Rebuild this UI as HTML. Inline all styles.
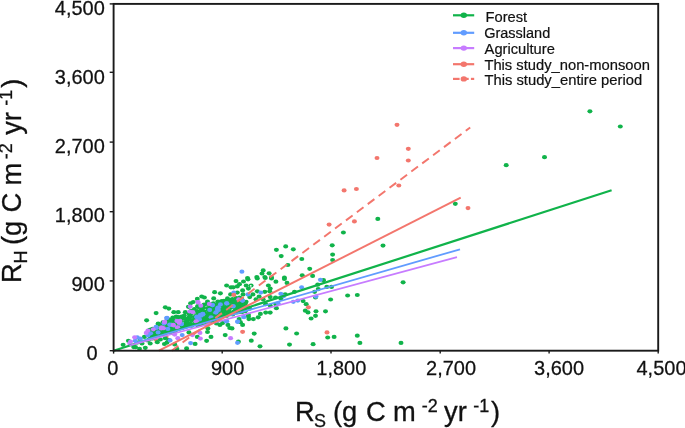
<!DOCTYPE html>
<html><head><meta charset="utf-8"><title>RH vs RS</title>
<style>html,body{margin:0;padding:0;background:#fff;}svg{display:block;will-change:transform;}</style></head>
<body>
<svg width="685" height="428" viewBox="0 0 685 428">
<rect width="685" height="428" fill="#fff"/>
<g fill="#F3766D"><ellipse cx="156.4" cy="340.0" rx="2.5" ry="2.12"/><ellipse cx="166.1" cy="336.9" rx="2.5" ry="2.12"/></g>
<g fill="#10B34A"><ellipse cx="589.9" cy="111.3" rx="2.5" ry="2.12"/><ellipse cx="620.3" cy="126.5" rx="2.5" ry="2.12"/><ellipse cx="544.5" cy="157.2" rx="2.5" ry="2.12"/><ellipse cx="506.2" cy="165.2" rx="2.5" ry="2.12"/><ellipse cx="455.3" cy="203.8" rx="2.5" ry="2.12"/><ellipse cx="377.8" cy="218.9" rx="2.5" ry="2.12"/><ellipse cx="343.4" cy="232.5" rx="2.5" ry="2.12"/><ellipse cx="332.2" cy="245.3" rx="2.5" ry="2.12"/><ellipse cx="383.0" cy="245.6" rx="2.5" ry="2.12"/><ellipse cx="332.6" cy="254.6" rx="2.5" ry="2.12"/><ellipse cx="332.6" cy="260.0" rx="2.5" ry="2.12"/><ellipse cx="301.8" cy="259.0" rx="2.5" ry="2.12"/><ellipse cx="293.3" cy="249.3" rx="2.5" ry="2.12"/><ellipse cx="403.1" cy="282.3" rx="2.5" ry="2.12"/><ellipse cx="347.6" cy="295.5" rx="2.5" ry="2.12"/><ellipse cx="357.3" cy="295.0" rx="2.5" ry="2.12"/><ellipse cx="357.3" cy="335.7" rx="2.5" ry="2.12"/><ellipse cx="359.9" cy="342.9" rx="2.5" ry="2.12"/><ellipse cx="401.0" cy="342.9" rx="2.5" ry="2.12"/><ellipse cx="285.7" cy="246.4" rx="2.5" ry="2.12"/><ellipse cx="276.4" cy="249.8" rx="2.5" ry="2.12"/><ellipse cx="281.2" cy="256.1" rx="2.5" ry="2.12"/><ellipse cx="287.9" cy="265.0" rx="2.5" ry="2.12"/><ellipse cx="263.2" cy="270.4" rx="2.5" ry="2.12"/><ellipse cx="262.0" cy="273.5" rx="2.5" ry="2.12"/><ellipse cx="269.1" cy="273.3" rx="2.5" ry="2.12"/><ellipse cx="256.8" cy="277.1" rx="2.5" ry="2.12"/><ellipse cx="264.8" cy="277.1" rx="2.5" ry="2.12"/><ellipse cx="271.5" cy="277.3" rx="2.5" ry="2.12"/><ellipse cx="284.4" cy="277.7" rx="2.5" ry="2.12"/><ellipse cx="247.5" cy="278.0" rx="2.5" ry="2.12"/><ellipse cx="309.7" cy="268.8" rx="2.5" ry="2.12"/><ellipse cx="302.2" cy="275.3" rx="2.5" ry="2.12"/><ellipse cx="312.6" cy="275.9" rx="2.5" ry="2.12"/><ellipse cx="294.5" cy="291.8" rx="2.5" ry="2.12"/><ellipse cx="317.7" cy="284.7" rx="2.5" ry="2.12"/><ellipse cx="323.5" cy="280.2" rx="2.5" ry="2.12"/><ellipse cx="318.2" cy="289.1" rx="2.5" ry="2.12"/><ellipse cx="314.6" cy="291.8" rx="2.5" ry="2.12"/><ellipse cx="326.8" cy="286.9" rx="2.5" ry="2.12"/><ellipse cx="331.5" cy="286.9" rx="2.5" ry="2.12"/><ellipse cx="315.5" cy="297.5" rx="2.5" ry="2.12"/><ellipse cx="330.6" cy="299.5" rx="2.5" ry="2.12"/><ellipse cx="303.1" cy="301.1" rx="2.5" ry="2.12"/><ellipse cx="306.2" cy="304.2" rx="2.5" ry="2.12"/><ellipse cx="305.3" cy="310.7" rx="2.5" ry="2.12"/><ellipse cx="308.0" cy="312.4" rx="2.5" ry="2.12"/><ellipse cx="316.0" cy="311.3" rx="2.5" ry="2.12"/><ellipse cx="325.5" cy="311.3" rx="2.5" ry="2.12"/><ellipse cx="315.5" cy="315.8" rx="2.5" ry="2.12"/><ellipse cx="311.1" cy="318.5" rx="2.5" ry="2.12"/><ellipse cx="296.6" cy="333.5" rx="2.5" ry="2.12"/><ellipse cx="327.7" cy="337.5" rx="2.5" ry="2.12"/><ellipse cx="334.1" cy="336.9" rx="2.5" ry="2.12"/><ellipse cx="313.1" cy="344.2" rx="2.5" ry="2.12"/><ellipse cx="239.1" cy="319.1" rx="2.5" ry="2.12"/><ellipse cx="248.9" cy="319.1" rx="2.5" ry="2.12"/><ellipse cx="253.3" cy="319.1" rx="2.5" ry="2.12"/><ellipse cx="258.2" cy="317.3" rx="2.5" ry="2.12"/><ellipse cx="248.4" cy="316.4" rx="2.5" ry="2.12"/><ellipse cx="242.6" cy="324.9" rx="2.5" ry="2.12"/><ellipse cx="240.4" cy="322.2" rx="2.5" ry="2.12"/><ellipse cx="232.0" cy="328.4" rx="2.5" ry="2.12"/><ellipse cx="254.2" cy="333.6" rx="2.5" ry="2.12"/><ellipse cx="251.3" cy="340.7" rx="2.5" ry="2.12"/><ellipse cx="238.4" cy="341.7" rx="2.5" ry="2.12"/><ellipse cx="260.0" cy="346.3" rx="2.5" ry="2.12"/><ellipse cx="285.9" cy="328.4" rx="2.5" ry="2.12"/><ellipse cx="289.5" cy="344.6" rx="2.5" ry="2.12"/><ellipse cx="236.0" cy="281.1" rx="2.5" ry="2.12"/><ellipse cx="243.5" cy="281.5" rx="2.5" ry="2.12"/><ellipse cx="248.0" cy="279.3" rx="2.5" ry="2.12"/><ellipse cx="257.3" cy="278.4" rx="2.5" ry="2.12"/><ellipse cx="265.3" cy="278.0" rx="2.5" ry="2.12"/><ellipse cx="271.5" cy="278.4" rx="2.5" ry="2.12"/><ellipse cx="275.9" cy="281.7" rx="2.5" ry="2.12"/><ellipse cx="284.4" cy="278.9" rx="2.5" ry="2.12"/><ellipse cx="287.0" cy="282.9" rx="2.5" ry="2.12"/><ellipse cx="239.5" cy="284.2" rx="2.5" ry="2.12"/><ellipse cx="237.3" cy="286.4" rx="2.5" ry="2.12"/><ellipse cx="233.3" cy="287.3" rx="2.5" ry="2.12"/><ellipse cx="246.2" cy="285.5" rx="2.5" ry="2.12"/><ellipse cx="251.1" cy="285.5" rx="2.5" ry="2.12"/><ellipse cx="248.4" cy="288.6" rx="2.5" ry="2.12"/><ellipse cx="268.4" cy="285.5" rx="2.5" ry="2.12"/><ellipse cx="270.2" cy="288.6" rx="2.5" ry="2.12"/><ellipse cx="269.7" cy="291.3" rx="2.5" ry="2.12"/><ellipse cx="242.6" cy="290.4" rx="2.5" ry="2.12"/><ellipse cx="237.3" cy="292.6" rx="2.5" ry="2.12"/><ellipse cx="243.1" cy="294.4" rx="2.5" ry="2.12"/><ellipse cx="257.3" cy="291.3" rx="2.5" ry="2.12"/><ellipse cx="264.8" cy="291.8" rx="2.5" ry="2.12"/><ellipse cx="252.9" cy="294.4" rx="2.5" ry="2.12"/><ellipse cx="249.7" cy="297.1" rx="2.5" ry="2.12"/><ellipse cx="259.1" cy="296.6" rx="2.5" ry="2.12"/><ellipse cx="256.0" cy="299.3" rx="2.5" ry="2.12"/><ellipse cx="263.1" cy="299.3" rx="2.5" ry="2.12"/><ellipse cx="270.2" cy="297.1" rx="2.5" ry="2.12"/><ellipse cx="275.5" cy="297.5" rx="2.5" ry="2.12"/><ellipse cx="280.8" cy="298.4" rx="2.5" ry="2.12"/><ellipse cx="285.2" cy="294.4" rx="2.5" ry="2.12"/><ellipse cx="233.3" cy="300.2" rx="2.5" ry="2.12"/><ellipse cx="236.4" cy="302.8" rx="2.5" ry="2.12"/><ellipse cx="240.9" cy="303.7" rx="2.5" ry="2.12"/><ellipse cx="245.3" cy="302.0" rx="2.5" ry="2.12"/><ellipse cx="235.1" cy="306.4" rx="2.5" ry="2.12"/><ellipse cx="240.0" cy="306.4" rx="2.5" ry="2.12"/><ellipse cx="265.7" cy="304.2" rx="2.5" ry="2.12"/><ellipse cx="270.2" cy="305.5" rx="2.5" ry="2.12"/><ellipse cx="276.4" cy="308.2" rx="2.5" ry="2.12"/><ellipse cx="275.9" cy="304.6" rx="2.5" ry="2.12"/><ellipse cx="265.7" cy="312.6" rx="2.5" ry="2.12"/><ellipse cx="270.2" cy="312.6" rx="2.5" ry="2.12"/><ellipse cx="260.4" cy="313.9" rx="2.5" ry="2.12"/><ellipse cx="245.3" cy="309.1" rx="2.5" ry="2.12"/><ellipse cx="249.7" cy="308.6" rx="2.5" ry="2.12"/><ellipse cx="248.4" cy="314.8" rx="2.5" ry="2.12"/><ellipse cx="235.5" cy="309.9" rx="2.5" ry="2.12"/><ellipse cx="186.6" cy="348.4" rx="2.5" ry="2.12"/><ellipse cx="176.9" cy="348.8" rx="2.5" ry="2.12"/><ellipse cx="195.1" cy="343.9" rx="2.5" ry="2.12"/><ellipse cx="206.6" cy="340.8" rx="2.5" ry="2.12"/><ellipse cx="197.3" cy="336.9" rx="2.5" ry="2.12"/><ellipse cx="211.0" cy="336.9" rx="2.5" ry="2.12"/><ellipse cx="207.5" cy="332.0" rx="2.5" ry="2.12"/><ellipse cx="207.9" cy="328.4" rx="2.5" ry="2.12"/><ellipse cx="225.2" cy="335.1" rx="2.5" ry="2.12"/><ellipse cx="219.9" cy="324.9" rx="2.5" ry="2.12"/><ellipse cx="222.6" cy="323.1" rx="2.5" ry="2.12"/><ellipse cx="227.9" cy="324.9" rx="2.5" ry="2.12"/><ellipse cx="229.7" cy="328.0" rx="2.5" ry="2.12"/><ellipse cx="216.4" cy="323.5" rx="2.5" ry="2.12"/><ellipse cx="188.9" cy="332.4" rx="2.5" ry="2.12"/><ellipse cx="174.7" cy="344.4" rx="2.5" ry="2.12"/><ellipse cx="146.6" cy="320.3" rx="2.5" ry="2.12"/><ellipse cx="123.1" cy="344.8" rx="2.5" ry="2.12"/><ellipse cx="128.4" cy="340.8" rx="2.5" ry="2.12"/><ellipse cx="133.7" cy="347.1" rx="2.5" ry="2.12"/><ellipse cx="135.5" cy="347.2" rx="2.5" ry="2.12"/><ellipse cx="139.5" cy="348.8" rx="2.5" ry="2.12"/><ellipse cx="145.3" cy="347.8" rx="2.5" ry="2.12"/><ellipse cx="150.2" cy="343.5" rx="2.5" ry="2.12"/><ellipse cx="157.3" cy="342.2" rx="2.5" ry="2.12"/><ellipse cx="164.4" cy="344.0" rx="2.5" ry="2.12"/><ellipse cx="167.0" cy="342.6" rx="2.5" ry="2.12"/><ellipse cx="158.1" cy="324.0" rx="2.5" ry="2.12"/><ellipse cx="144.4" cy="336.9" rx="2.5" ry="2.12"/><ellipse cx="160.4" cy="339.5" rx="2.5" ry="2.12"/><ellipse cx="165.2" cy="338.2" rx="2.5" ry="2.12"/><ellipse cx="154.6" cy="333.7" rx="2.5" ry="2.12"/><ellipse cx="162.6" cy="331.5" rx="2.5" ry="2.12"/><ellipse cx="169.7" cy="321.3" rx="2.5" ry="2.12"/><ellipse cx="170.6" cy="327.5" rx="2.5" ry="2.12"/><ellipse cx="168.8" cy="340.2" rx="2.5" ry="2.12"/><ellipse cx="140.0" cy="339.0" rx="2.5" ry="2.12"/><ellipse cx="149.0" cy="335.5" rx="2.5" ry="2.12"/><ellipse cx="152.5" cy="338.5" rx="2.5" ry="2.12"/><ellipse cx="137.5" cy="342.5" rx="2.5" ry="2.12"/><ellipse cx="142.0" cy="343.5" rx="2.5" ry="2.12"/><ellipse cx="147.5" cy="340.5" rx="2.5" ry="2.12"/><ellipse cx="226.6" cy="285.5" rx="2.5" ry="2.12"/><ellipse cx="231.0" cy="287.3" rx="2.5" ry="2.12"/><ellipse cx="214.6" cy="292.2" rx="2.5" ry="2.12"/><ellipse cx="220.4" cy="293.3" rx="2.5" ry="2.12"/><ellipse cx="201.7" cy="296.5" rx="2.5" ry="2.12"/><ellipse cx="204.4" cy="297.5" rx="2.5" ry="2.12"/><ellipse cx="197.3" cy="298.9" rx="2.5" ry="2.12"/><ellipse cx="193.3" cy="302.0" rx="2.5" ry="2.12"/><ellipse cx="190.6" cy="303.3" rx="2.5" ry="2.12"/><ellipse cx="188.4" cy="306.8" rx="2.5" ry="2.12"/><ellipse cx="213.7" cy="298.4" rx="2.5" ry="2.12"/><ellipse cx="227.5" cy="298.4" rx="2.5" ry="2.12"/><ellipse cx="230.6" cy="294.4" rx="2.5" ry="2.12"/><ellipse cx="221.7" cy="301.1" rx="2.5" ry="2.12"/><ellipse cx="207.5" cy="301.5" rx="2.5" ry="2.12"/><ellipse cx="173.8" cy="312.2" rx="2.5" ry="2.12"/><ellipse cx="178.2" cy="312.2" rx="2.5" ry="2.12"/><ellipse cx="185.3" cy="312.2" rx="2.5" ry="2.12"/><ellipse cx="197.7" cy="306.4" rx="2.5" ry="2.12"/><ellipse cx="156.1" cy="313.1" rx="2.5" ry="2.12"/><ellipse cx="165.3" cy="307.3" rx="2.5" ry="2.12"/><ellipse cx="168.8" cy="308.6" rx="2.5" ry="2.12"/><ellipse cx="158.2" cy="323.7" rx="2.5" ry="2.12"/><ellipse cx="197.7" cy="306.4" rx="2.5" ry="2.12"/><ellipse cx="149.7" cy="329.9" rx="2.5" ry="2.12"/><ellipse cx="150.3" cy="332.8" rx="2.5" ry="2.12"/><ellipse cx="150.1" cy="336.3" rx="2.5" ry="2.12"/><ellipse cx="149.2" cy="339.5" rx="2.5" ry="2.12"/><ellipse cx="152.4" cy="328.8" rx="2.5" ry="2.12"/><ellipse cx="152.4" cy="331.2" rx="2.5" ry="2.12"/><ellipse cx="153.1" cy="335.4" rx="2.5" ry="2.12"/><ellipse cx="152.5" cy="337.5" rx="2.5" ry="2.12"/><ellipse cx="156.6" cy="328.0" rx="2.5" ry="2.12"/><ellipse cx="156.5" cy="330.1" rx="2.5" ry="2.12"/><ellipse cx="157.3" cy="332.6" rx="2.5" ry="2.12"/><ellipse cx="157.0" cy="336.0" rx="2.5" ry="2.12"/><ellipse cx="159.0" cy="324.7" rx="2.5" ry="2.12"/><ellipse cx="159.3" cy="328.9" rx="2.5" ry="2.12"/><ellipse cx="159.0" cy="331.5" rx="2.5" ry="2.12"/><ellipse cx="159.9" cy="334.2" rx="2.5" ry="2.12"/><ellipse cx="162.9" cy="322.4" rx="2.5" ry="2.12"/><ellipse cx="162.0" cy="325.6" rx="2.5" ry="2.12"/><ellipse cx="163.1" cy="329.0" rx="2.5" ry="2.12"/><ellipse cx="162.5" cy="332.2" rx="2.5" ry="2.12"/><ellipse cx="162.7" cy="334.8" rx="2.5" ry="2.12"/><ellipse cx="166.5" cy="321.2" rx="2.5" ry="2.12"/><ellipse cx="165.5" cy="324.0" rx="2.5" ry="2.12"/><ellipse cx="166.0" cy="327.5" rx="2.5" ry="2.12"/><ellipse cx="166.4" cy="329.6" rx="2.5" ry="2.12"/><ellipse cx="166.9" cy="332.3" rx="2.5" ry="2.12"/><ellipse cx="169.1" cy="319.5" rx="2.5" ry="2.12"/><ellipse cx="168.6" cy="322.1" rx="2.5" ry="2.12"/><ellipse cx="168.4" cy="325.4" rx="2.5" ry="2.12"/><ellipse cx="169.7" cy="328.2" rx="2.5" ry="2.12"/><ellipse cx="169.9" cy="330.8" rx="2.5" ry="2.12"/><ellipse cx="172.8" cy="317.6" rx="2.5" ry="2.12"/><ellipse cx="172.5" cy="320.4" rx="2.5" ry="2.12"/><ellipse cx="173.0" cy="324.2" rx="2.5" ry="2.12"/><ellipse cx="172.4" cy="326.7" rx="2.5" ry="2.12"/><ellipse cx="171.6" cy="329.8" rx="2.5" ry="2.12"/><ellipse cx="172.7" cy="333.2" rx="2.5" ry="2.12"/><ellipse cx="176.2" cy="316.6" rx="2.5" ry="2.12"/><ellipse cx="175.4" cy="320.3" rx="2.5" ry="2.12"/><ellipse cx="174.7" cy="322.9" rx="2.5" ry="2.12"/><ellipse cx="175.0" cy="325.4" rx="2.5" ry="2.12"/><ellipse cx="174.8" cy="329.4" rx="2.5" ry="2.12"/><ellipse cx="174.9" cy="331.6" rx="2.5" ry="2.12"/><ellipse cx="178.6" cy="317.1" rx="2.5" ry="2.12"/><ellipse cx="178.0" cy="319.4" rx="2.5" ry="2.12"/><ellipse cx="178.9" cy="323.1" rx="2.5" ry="2.12"/><ellipse cx="179.4" cy="326.1" rx="2.5" ry="2.12"/><ellipse cx="178.4" cy="328.4" rx="2.5" ry="2.12"/><ellipse cx="181.7" cy="316.7" rx="2.5" ry="2.12"/><ellipse cx="182.8" cy="318.5" rx="2.5" ry="2.12"/><ellipse cx="181.4" cy="321.6" rx="2.5" ry="2.12"/><ellipse cx="181.5" cy="325.0" rx="2.5" ry="2.12"/><ellipse cx="182.2" cy="327.7" rx="2.5" ry="2.12"/><ellipse cx="184.3" cy="315.5" rx="2.5" ry="2.12"/><ellipse cx="185.0" cy="318.7" rx="2.5" ry="2.12"/><ellipse cx="186.0" cy="321.9" rx="2.5" ry="2.12"/><ellipse cx="185.2" cy="324.8" rx="2.5" ry="2.12"/><ellipse cx="185.5" cy="326.9" rx="2.5" ry="2.12"/><ellipse cx="189.1" cy="314.1" rx="2.5" ry="2.12"/><ellipse cx="189.1" cy="317.2" rx="2.5" ry="2.12"/><ellipse cx="188.2" cy="319.5" rx="2.5" ry="2.12"/><ellipse cx="187.7" cy="322.9" rx="2.5" ry="2.12"/><ellipse cx="187.6" cy="325.0" rx="2.5" ry="2.12"/><ellipse cx="191.1" cy="310.8" rx="2.5" ry="2.12"/><ellipse cx="191.3" cy="313.6" rx="2.5" ry="2.12"/><ellipse cx="190.7" cy="316.7" rx="2.5" ry="2.12"/><ellipse cx="190.9" cy="320.1" rx="2.5" ry="2.12"/><ellipse cx="190.7" cy="323.9" rx="2.5" ry="2.12"/><ellipse cx="191.8" cy="325.7" rx="2.5" ry="2.12"/><ellipse cx="194.4" cy="309.1" rx="2.5" ry="2.12"/><ellipse cx="194.6" cy="311.8" rx="2.5" ry="2.12"/><ellipse cx="195.4" cy="316.2" rx="2.5" ry="2.12"/><ellipse cx="194.7" cy="318.3" rx="2.5" ry="2.12"/><ellipse cx="194.1" cy="320.7" rx="2.5" ry="2.12"/><ellipse cx="194.5" cy="324.0" rx="2.5" ry="2.12"/><ellipse cx="198.6" cy="307.0" rx="2.5" ry="2.12"/><ellipse cx="197.1" cy="311.2" rx="2.5" ry="2.12"/><ellipse cx="198.1" cy="312.9" rx="2.5" ry="2.12"/><ellipse cx="198.1" cy="315.7" rx="2.5" ry="2.12"/><ellipse cx="198.1" cy="320.3" rx="2.5" ry="2.12"/><ellipse cx="198.7" cy="322.8" rx="2.5" ry="2.12"/><ellipse cx="197.6" cy="325.3" rx="2.5" ry="2.12"/><ellipse cx="200.6" cy="306.8" rx="2.5" ry="2.12"/><ellipse cx="201.3" cy="309.8" rx="2.5" ry="2.12"/><ellipse cx="200.9" cy="311.9" rx="2.5" ry="2.12"/><ellipse cx="201.8" cy="316.1" rx="2.5" ry="2.12"/><ellipse cx="201.8" cy="318.8" rx="2.5" ry="2.12"/><ellipse cx="201.8" cy="321.7" rx="2.5" ry="2.12"/><ellipse cx="200.7" cy="324.4" rx="2.5" ry="2.12"/><ellipse cx="204.1" cy="304.5" rx="2.5" ry="2.12"/><ellipse cx="203.6" cy="307.9" rx="2.5" ry="2.12"/><ellipse cx="204.0" cy="311.5" rx="2.5" ry="2.12"/><ellipse cx="205.2" cy="314.1" rx="2.5" ry="2.12"/><ellipse cx="205.2" cy="318.0" rx="2.5" ry="2.12"/><ellipse cx="205.2" cy="320.0" rx="2.5" ry="2.12"/><ellipse cx="203.9" cy="322.8" rx="2.5" ry="2.12"/><ellipse cx="207.1" cy="303.9" rx="2.5" ry="2.12"/><ellipse cx="207.8" cy="308.0" rx="2.5" ry="2.12"/><ellipse cx="208.2" cy="310.3" rx="2.5" ry="2.12"/><ellipse cx="207.9" cy="313.8" rx="2.5" ry="2.12"/><ellipse cx="206.9" cy="316.6" rx="2.5" ry="2.12"/><ellipse cx="208.3" cy="319.8" rx="2.5" ry="2.12"/><ellipse cx="208.1" cy="322.3" rx="2.5" ry="2.12"/><ellipse cx="210.2" cy="304.0" rx="2.5" ry="2.12"/><ellipse cx="210.5" cy="307.0" rx="2.5" ry="2.12"/><ellipse cx="211.6" cy="309.4" rx="2.5" ry="2.12"/><ellipse cx="210.6" cy="313.3" rx="2.5" ry="2.12"/><ellipse cx="211.2" cy="315.0" rx="2.5" ry="2.12"/><ellipse cx="210.1" cy="318.0" rx="2.5" ry="2.12"/><ellipse cx="211.5" cy="322.0" rx="2.5" ry="2.12"/><ellipse cx="213.4" cy="303.3" rx="2.5" ry="2.12"/><ellipse cx="214.9" cy="306.0" rx="2.5" ry="2.12"/><ellipse cx="213.7" cy="308.8" rx="2.5" ry="2.12"/><ellipse cx="213.3" cy="311.0" rx="2.5" ry="2.12"/><ellipse cx="214.8" cy="315.0" rx="2.5" ry="2.12"/><ellipse cx="214.0" cy="318.4" rx="2.5" ry="2.12"/><ellipse cx="213.9" cy="321.3" rx="2.5" ry="2.12"/><ellipse cx="217.8" cy="301.6" rx="2.5" ry="2.12"/><ellipse cx="216.8" cy="304.7" rx="2.5" ry="2.12"/><ellipse cx="216.7" cy="308.2" rx="2.5" ry="2.12"/><ellipse cx="216.8" cy="310.9" rx="2.5" ry="2.12"/><ellipse cx="216.5" cy="314.7" rx="2.5" ry="2.12"/><ellipse cx="216.9" cy="317.0" rx="2.5" ry="2.12"/><ellipse cx="217.4" cy="320.7" rx="2.5" ry="2.12"/><ellipse cx="220.3" cy="302.1" rx="2.5" ry="2.12"/><ellipse cx="220.4" cy="304.5" rx="2.5" ry="2.12"/><ellipse cx="220.4" cy="306.6" rx="2.5" ry="2.12"/><ellipse cx="220.3" cy="309.9" rx="2.5" ry="2.12"/><ellipse cx="219.5" cy="313.9" rx="2.5" ry="2.12"/><ellipse cx="219.8" cy="316.4" rx="2.5" ry="2.12"/><ellipse cx="224.0" cy="300.9" rx="2.5" ry="2.12"/><ellipse cx="223.3" cy="303.8" rx="2.5" ry="2.12"/><ellipse cx="223.7" cy="307.2" rx="2.5" ry="2.12"/><ellipse cx="222.9" cy="309.9" rx="2.5" ry="2.12"/><ellipse cx="223.1" cy="312.4" rx="2.5" ry="2.12"/><ellipse cx="224.1" cy="315.8" rx="2.5" ry="2.12"/><ellipse cx="226.9" cy="300.5" rx="2.5" ry="2.12"/><ellipse cx="227.5" cy="303.0" rx="2.5" ry="2.12"/><ellipse cx="227.0" cy="306.1" rx="2.5" ry="2.12"/><ellipse cx="226.8" cy="309.4" rx="2.5" ry="2.12"/><ellipse cx="226.7" cy="312.2" rx="2.5" ry="2.12"/><ellipse cx="226.8" cy="315.8" rx="2.5" ry="2.12"/><ellipse cx="230.4" cy="300.0" rx="2.5" ry="2.12"/><ellipse cx="230.8" cy="302.0" rx="2.5" ry="2.12"/><ellipse cx="230.1" cy="306.1" rx="2.5" ry="2.12"/><ellipse cx="230.6" cy="307.8" rx="2.5" ry="2.12"/><ellipse cx="229.3" cy="311.3" rx="2.5" ry="2.12"/><ellipse cx="229.2" cy="314.0" rx="2.5" ry="2.12"/><ellipse cx="232.4" cy="299.0" rx="2.5" ry="2.12"/><ellipse cx="233.7" cy="302.4" rx="2.5" ry="2.12"/><ellipse cx="232.6" cy="305.1" rx="2.5" ry="2.12"/><ellipse cx="233.5" cy="307.2" rx="2.5" ry="2.12"/><ellipse cx="233.9" cy="311.5" rx="2.5" ry="2.12"/><ellipse cx="232.7" cy="314.5" rx="2.5" ry="2.12"/><ellipse cx="236.2" cy="298.2" rx="2.5" ry="2.12"/><ellipse cx="237.3" cy="301.7" rx="2.5" ry="2.12"/><ellipse cx="235.8" cy="304.1" rx="2.5" ry="2.12"/><ellipse cx="236.4" cy="306.9" rx="2.5" ry="2.12"/><ellipse cx="235.9" cy="309.9" rx="2.5" ry="2.12"/><ellipse cx="236.8" cy="312.4" rx="2.5" ry="2.12"/><ellipse cx="239.7" cy="297.5" rx="2.5" ry="2.12"/><ellipse cx="238.7" cy="300.3" rx="2.5" ry="2.12"/><ellipse cx="239.8" cy="303.6" rx="2.5" ry="2.12"/><ellipse cx="238.8" cy="307.4" rx="2.5" ry="2.12"/><ellipse cx="240.1" cy="310.3" rx="2.5" ry="2.12"/><ellipse cx="238.9" cy="312.2" rx="2.5" ry="2.12"/><ellipse cx="242.0" cy="299.8" rx="2.5" ry="2.12"/><ellipse cx="242.4" cy="301.8" rx="2.5" ry="2.12"/><ellipse cx="242.7" cy="306.0" rx="2.5" ry="2.12"/><ellipse cx="243.4" cy="308.0" rx="2.5" ry="2.12"/><ellipse cx="242.2" cy="312.0" rx="2.5" ry="2.12"/><ellipse cx="246.1" cy="301.8" rx="2.5" ry="2.12"/><ellipse cx="245.3" cy="303.8" rx="2.5" ry="2.12"/><ellipse cx="246.3" cy="307.4" rx="2.5" ry="2.12"/><ellipse cx="245.2" cy="311.2" rx="2.5" ry="2.12"/></g>
<g fill="#619CFF"><ellipse cx="167.0" cy="317.8" rx="2.5" ry="2.12"/><ellipse cx="164.4" cy="323.1" rx="2.5" ry="2.12"/><ellipse cx="170.1" cy="324.9" rx="2.5" ry="2.12"/><ellipse cx="167.9" cy="328.9" rx="2.5" ry="2.12"/><ellipse cx="156.4" cy="328.0" rx="2.5" ry="2.12"/><ellipse cx="158.1" cy="332.4" rx="2.5" ry="2.12"/><ellipse cx="150.6" cy="333.3" rx="2.5" ry="2.12"/><ellipse cx="147.9" cy="335.5" rx="2.5" ry="2.12"/><ellipse cx="137.3" cy="337.3" rx="2.5" ry="2.12"/><ellipse cx="140.4" cy="338.6" rx="2.5" ry="2.12"/><ellipse cx="135.1" cy="340.8" rx="2.5" ry="2.12"/><ellipse cx="170.1" cy="340.4" rx="2.5" ry="2.12"/><ellipse cx="190.6" cy="343.1" rx="2.5" ry="2.12"/><ellipse cx="182.2" cy="335.1" rx="2.5" ry="2.12"/><ellipse cx="181.3" cy="324.0" rx="2.5" ry="2.12"/><ellipse cx="196.8" cy="317.3" rx="2.5" ry="2.12"/><ellipse cx="199.5" cy="319.5" rx="2.5" ry="2.12"/><ellipse cx="226.1" cy="321.3" rx="2.5" ry="2.12"/><ellipse cx="211.0" cy="317.3" rx="2.5" ry="2.12"/><ellipse cx="212.4" cy="305.1" rx="2.5" ry="2.12"/><ellipse cx="220.4" cy="304.4" rx="2.5" ry="2.12"/><ellipse cx="226.6" cy="303.3" rx="2.5" ry="2.12"/><ellipse cx="218.6" cy="307.3" rx="2.5" ry="2.12"/><ellipse cx="217.3" cy="309.1" rx="2.5" ry="2.12"/><ellipse cx="209.7" cy="309.9" rx="2.5" ry="2.12"/><ellipse cx="215.9" cy="312.4" rx="2.5" ry="2.12"/><ellipse cx="202.6" cy="313.9" rx="2.5" ry="2.12"/><ellipse cx="200.4" cy="314.8" rx="2.5" ry="2.12"/><ellipse cx="233.8" cy="292.6" rx="2.5" ry="2.12"/><ellipse cx="248.0" cy="294.4" rx="2.5" ry="2.12"/><ellipse cx="260.8" cy="292.6" rx="2.5" ry="2.12"/><ellipse cx="280.8" cy="293.8" rx="2.5" ry="2.12"/><ellipse cx="242.6" cy="300.6" rx="2.5" ry="2.12"/><ellipse cx="233.3" cy="306.0" rx="2.5" ry="2.12"/><ellipse cx="283.5" cy="296.2" rx="2.5" ry="2.12"/><ellipse cx="278.1" cy="303.3" rx="2.5" ry="2.12"/><ellipse cx="241.9" cy="271.7" rx="2.5" ry="2.12"/><ellipse cx="320.4" cy="279.8" rx="2.5" ry="2.12"/><ellipse cx="301.6" cy="287.3" rx="2.5" ry="2.12"/><ellipse cx="316.0" cy="296.6" rx="2.5" ry="2.12"/><ellipse cx="293.3" cy="301.8" rx="2.5" ry="2.12"/><ellipse cx="297.8" cy="300.6" rx="2.5" ry="2.12"/><ellipse cx="244.0" cy="317.1" rx="2.5" ry="2.12"/><ellipse cx="237.5" cy="321.8" rx="2.5" ry="2.12"/><ellipse cx="237.5" cy="342.8" rx="2.5" ry="2.12"/><ellipse cx="166.6" cy="318.0" rx="2.5" ry="2.12"/><ellipse cx="164.0" cy="323.3" rx="2.5" ry="2.12"/><ellipse cx="169.7" cy="324.6" rx="2.5" ry="2.12"/><ellipse cx="181.3" cy="324.2" rx="2.5" ry="2.12"/><ellipse cx="196.8" cy="316.6" rx="2.5" ry="2.12"/><ellipse cx="156.0" cy="326.8" rx="2.5" ry="2.12"/><ellipse cx="198.6" cy="318.4" rx="2.5" ry="2.12"/><ellipse cx="226.8" cy="303.4" rx="2.5" ry="2.12"/><ellipse cx="212.5" cy="305.1" rx="2.5" ry="2.12"/><ellipse cx="217.7" cy="307.9" rx="2.5" ry="2.12"/><ellipse cx="218.4" cy="310.0" rx="2.5" ry="2.12"/><ellipse cx="216.0" cy="312.5" rx="2.5" ry="2.12"/><ellipse cx="203.0" cy="314.2" rx="2.5" ry="2.12"/><ellipse cx="201.3" cy="315.6" rx="2.5" ry="2.12"/><ellipse cx="198.8" cy="319.1" rx="2.5" ry="2.12"/><ellipse cx="197.4" cy="317.0" rx="2.5" ry="2.12"/><ellipse cx="233.1" cy="306.5" rx="2.5" ry="2.12"/><ellipse cx="242.3" cy="300.6" rx="2.5" ry="2.12"/><ellipse cx="237.7" cy="321.6" rx="2.5" ry="2.12"/><ellipse cx="226.8" cy="321.2" rx="2.5" ry="2.12"/><ellipse cx="243.6" cy="317.0" rx="2.5" ry="2.12"/></g>
<g fill="#C77CFF"><ellipse cx="164.4" cy="321.8" rx="2.5" ry="2.12"/><ellipse cx="161.2" cy="328.4" rx="2.5" ry="2.12"/><ellipse cx="163.5" cy="328.2" rx="2.5" ry="2.12"/><ellipse cx="153.3" cy="329.3" rx="2.5" ry="2.12"/><ellipse cx="147.9" cy="330.6" rx="2.5" ry="2.12"/><ellipse cx="146.2" cy="332.9" rx="2.5" ry="2.12"/><ellipse cx="134.6" cy="337.3" rx="2.5" ry="2.12"/><ellipse cx="130.6" cy="341.7" rx="2.5" ry="2.12"/><ellipse cx="129.7" cy="343.5" rx="2.5" ry="2.12"/><ellipse cx="200.4" cy="338.6" rx="2.5" ry="2.12"/><ellipse cx="200.0" cy="332.9" rx="2.5" ry="2.12"/><ellipse cx="192.4" cy="335.1" rx="2.5" ry="2.12"/><ellipse cx="177.8" cy="338.2" rx="2.5" ry="2.12"/><ellipse cx="230.6" cy="338.2" rx="2.5" ry="2.12"/><ellipse cx="176.9" cy="320.9" rx="2.5" ry="2.12"/><ellipse cx="180.0" cy="320.9" rx="2.5" ry="2.12"/><ellipse cx="173.3" cy="324.9" rx="2.5" ry="2.12"/><ellipse cx="177.3" cy="327.5" rx="2.5" ry="2.12"/><ellipse cx="196.0" cy="321.3" rx="2.5" ry="2.12"/><ellipse cx="174.7" cy="334.6" rx="2.5" ry="2.12"/><ellipse cx="197.9" cy="302.1" rx="2.5" ry="2.12"/><ellipse cx="190.2" cy="306.6" rx="2.5" ry="2.12"/><ellipse cx="200.8" cy="305.7" rx="2.5" ry="2.12"/><ellipse cx="209.3" cy="303.9" rx="2.5" ry="2.12"/><ellipse cx="189.7" cy="311.5" rx="2.5" ry="2.12"/><ellipse cx="192.9" cy="312.2" rx="2.5" ry="2.12"/><ellipse cx="238.7" cy="299.3" rx="2.5" ry="2.12"/><ellipse cx="198.1" cy="302.4" rx="2.5" ry="2.12"/><ellipse cx="179.0" cy="322.8" rx="2.5" ry="2.12"/><ellipse cx="196.3" cy="321.5" rx="2.5" ry="2.12"/><ellipse cx="164.8" cy="321.9" rx="2.5" ry="2.12"/><ellipse cx="173.3" cy="325.3" rx="2.5" ry="2.12"/><ellipse cx="177.7" cy="327.3" rx="2.5" ry="2.12"/><ellipse cx="161.7" cy="327.3" rx="2.5" ry="2.12"/></g>
<g fill="#F3766D"><ellipse cx="397.0" cy="124.8" rx="2.5" ry="2.12"/><ellipse cx="408.3" cy="148.8" rx="2.5" ry="2.12"/><ellipse cx="408.3" cy="160.5" rx="2.5" ry="2.12"/><ellipse cx="377.0" cy="158.0" rx="2.5" ry="2.12"/><ellipse cx="398.8" cy="185.5" rx="2.5" ry="2.12"/><ellipse cx="344.1" cy="190.4" rx="2.5" ry="2.12"/><ellipse cx="356.4" cy="189.0" rx="2.5" ry="2.12"/><ellipse cx="354.4" cy="221.4" rx="2.5" ry="2.12"/><ellipse cx="329.1" cy="224.6" rx="2.5" ry="2.12"/><ellipse cx="468.0" cy="208.1" rx="2.5" ry="2.12"/><ellipse cx="308.4" cy="307.3" rx="2.5" ry="2.12"/><ellipse cx="327.0" cy="332.4" rx="2.5" ry="2.12"/><ellipse cx="242.6" cy="331.8" rx="2.5" ry="2.12"/><ellipse cx="233.8" cy="294.9" rx="2.5" ry="2.12"/></g>
<ellipse cx="250.8" cy="285.9" rx="0.9" ry="0.8" fill="#fff"/>
<g fill="none" stroke-width="1.95" stroke-linecap="butt">
<line x1="113.6" y1="350.7" x2="611.6" y2="190.3" stroke="#10B34A" stroke-width="2.2"/>
<line x1="171.7" y1="350.7" x2="470.2" y2="127.5" stroke="#F3766D" stroke-dasharray="8.3 5.3"/>
<line x1="134.5" y1="343.0" x2="460" y2="249.3" stroke="#619CFF" stroke-width="1.8"/>
<line x1="129.5" y1="345.5" x2="457" y2="257.2" stroke="#C77CFF" stroke-width="1.8"/>
<line x1="158.9" y1="350.7" x2="460.7" y2="197.6" stroke="#F3766D"/>
</g>
<g stroke="#1a1a1a" stroke-width="1.9" fill="none"><rect x="113.6" y="3.9" width="544.6" height="346.8"/></g><g stroke="#1a1a1a" stroke-width="1.4"><line x1="113.6" y1="350.7" x2="113.6" y2="353.59999999999997"/><line x1="222.2" y1="350.7" x2="222.2" y2="353.59999999999997"/><line x1="331.0" y1="350.7" x2="331.0" y2="353.59999999999997"/><line x1="440.2" y1="350.7" x2="440.2" y2="353.59999999999997"/><line x1="549.1" y1="350.7" x2="549.1" y2="353.59999999999997"/><line x1="658.2" y1="350.7" x2="658.2" y2="353.59999999999997"/><line x1="113.6" y1="350.7" x2="109.69999999999999" y2="350.7"/><line x1="113.6" y1="280.9" x2="109.69999999999999" y2="280.9"/><line x1="113.6" y1="211.7" x2="109.69999999999999" y2="211.7"/><line x1="113.6" y1="142.1" x2="109.69999999999999" y2="142.1"/><line x1="113.6" y1="72.3" x2="109.69999999999999" y2="72.3"/><line x1="113.6" y1="3.9" x2="109.69999999999999" y2="3.9"/></g>
<g font-family="Liberation Sans, sans-serif" font-size="20" fill="#111" stroke="#111" stroke-width="0.25"><text transform="translate(112.80,375.30) scale(1,1.04)" text-anchor="middle">0</text><text transform="translate(227.60,375.30) scale(1,1.04)" text-anchor="middle">900</text><text transform="translate(341.30,375.30) scale(1,1.04)" text-anchor="middle">1,800</text><text transform="translate(451.10,375.30) scale(1,1.04)" text-anchor="middle">2,700</text><text transform="translate(559.10,375.30) scale(1,1.04)" text-anchor="middle">3,600</text><text transform="translate(661.50,375.30) scale(1,1.04)" text-anchor="middle">4,500</text><text transform="translate(97.60,360.30) scale(1,1.04)" text-anchor="end">0</text><text transform="translate(104.80,291.10) scale(1,1.04)" text-anchor="end">900</text><text transform="translate(104.80,222.30) scale(1,1.04)" text-anchor="end">1,800</text><text transform="translate(104.80,153.30) scale(1,1.04)" text-anchor="end">2,700</text><text transform="translate(104.80,84.00) scale(1,1.04)" text-anchor="end">3,600</text><text transform="translate(104.80,14.50) scale(1,1.04)" text-anchor="end">4,500</text></g>
<g font-family="Liberation Sans, sans-serif" fill="#111" stroke="#111" stroke-width="0.3"><text transform="translate(295.00,421.10) scale(1,1.04)" font-size="27.3">R</text><text transform="translate(314.00,426.60) scale(1,1.04)" font-size="18">S</text><text transform="translate(333.00,421.10) scale(1,1.04)" font-size="27.3">(g</text><text transform="translate(366.00,421.10) scale(1,1.04)" font-size="27.3">C</text><text transform="translate(393.00,421.10) scale(1,1.04)" font-size="27.3">m</text><text transform="translate(421.70,412.30) scale(1,1.04)" font-size="18">-2</text><text transform="translate(444.00,421.10) scale(1,1.04)" font-size="27.3">yr</text><text transform="translate(473.30,412.30) scale(1,1.04)" font-size="18">-1</text><text transform="translate(491.00,421.10) scale(1,1.04)" font-size="27.3">)</text><g transform="translate(21.2,283.0) rotate(-90)"><text transform="translate(0.00,0.00) scale(1,1.04)" font-size="27.3">R</text><text transform="translate(19.40,5.50) scale(1,1.04)" font-size="18">H</text><text transform="translate(38.00,0.00) scale(1,1.04)" font-size="27.3">(g</text><text transform="translate(70.40,0.00) scale(1,1.04)" font-size="27.3">C</text><text transform="translate(97.60,0.00) scale(1,1.04)" font-size="27.3">m</text><text transform="translate(123.70,-8.80) scale(1,1.04)" font-size="18">-2</text><text transform="translate(148.20,0.00) scale(1,1.04)" font-size="27.3">yr</text><text transform="translate(177.20,-8.80) scale(1,1.04)" font-size="18">-1</text><text transform="translate(195.20,0.00) scale(1,1.04)" font-size="27.3">)</text></g></g>
<g font-family="Liberation Sans, sans-serif" font-size="14.7" fill="#111"><line x1="453" y1="15.3" x2="474.2" y2="15.3" stroke="#10B34A" stroke-width="2.2"/><ellipse cx="463.8" cy="15.3" rx="3.2" ry="2.7" fill="#10B34A"/><text transform="translate(485.50,21.90) scale(1,1.04)" font-size="14.7" stroke="#111" stroke-width="0.2">Forest</text><line x1="453" y1="32.8" x2="474.2" y2="32.8" stroke="#619CFF" stroke-width="2.2"/><ellipse cx="463.8" cy="32.8" rx="3.2" ry="2.7" fill="#619CFF"/><text transform="translate(484.20,38.30) scale(1,1.04)" font-size="14.5" stroke="#111" stroke-width="0.2">Grassland</text><line x1="453" y1="48.1" x2="474.2" y2="48.1" stroke="#C77CFF" stroke-width="2.2"/><ellipse cx="463.8" cy="48.1" rx="3.2" ry="2.7" fill="#C77CFF"/><text transform="translate(484.60,54.20) scale(1,1.04)" font-size="14.7" stroke="#111" stroke-width="0.2">Agriculture</text><line x1="453" y1="64.2" x2="474.2" y2="64.2" stroke="#F3766D" stroke-width="2.2"/><ellipse cx="463.8" cy="64.2" rx="3.2" ry="2.7" fill="#F3766D"/><text transform="translate(484.40,69.70) scale(1,1.04)" font-size="14.75" stroke="#111" stroke-width="0.2">This study_non-monsoon</text><line x1="453" y1="78.9" x2="459.6" y2="78.9" stroke="#F3766D" stroke-width="2.2"/><line x1="464" y1="78.9" x2="468.7" y2="78.9" stroke="#F3766D" stroke-width="2.2"/><line x1="470.9" y1="78.9" x2="474.2" y2="78.9" stroke="#F3766D" stroke-width="2.2"/><ellipse cx="463.8" cy="78.9" rx="3.2" ry="2.7" fill="#F3766D"/><text transform="translate(484.40,84.70) scale(1,1.04)" font-size="14.8" stroke="#111" stroke-width="0.2">This study_entire period</text></g>
</svg>
</body></html>
